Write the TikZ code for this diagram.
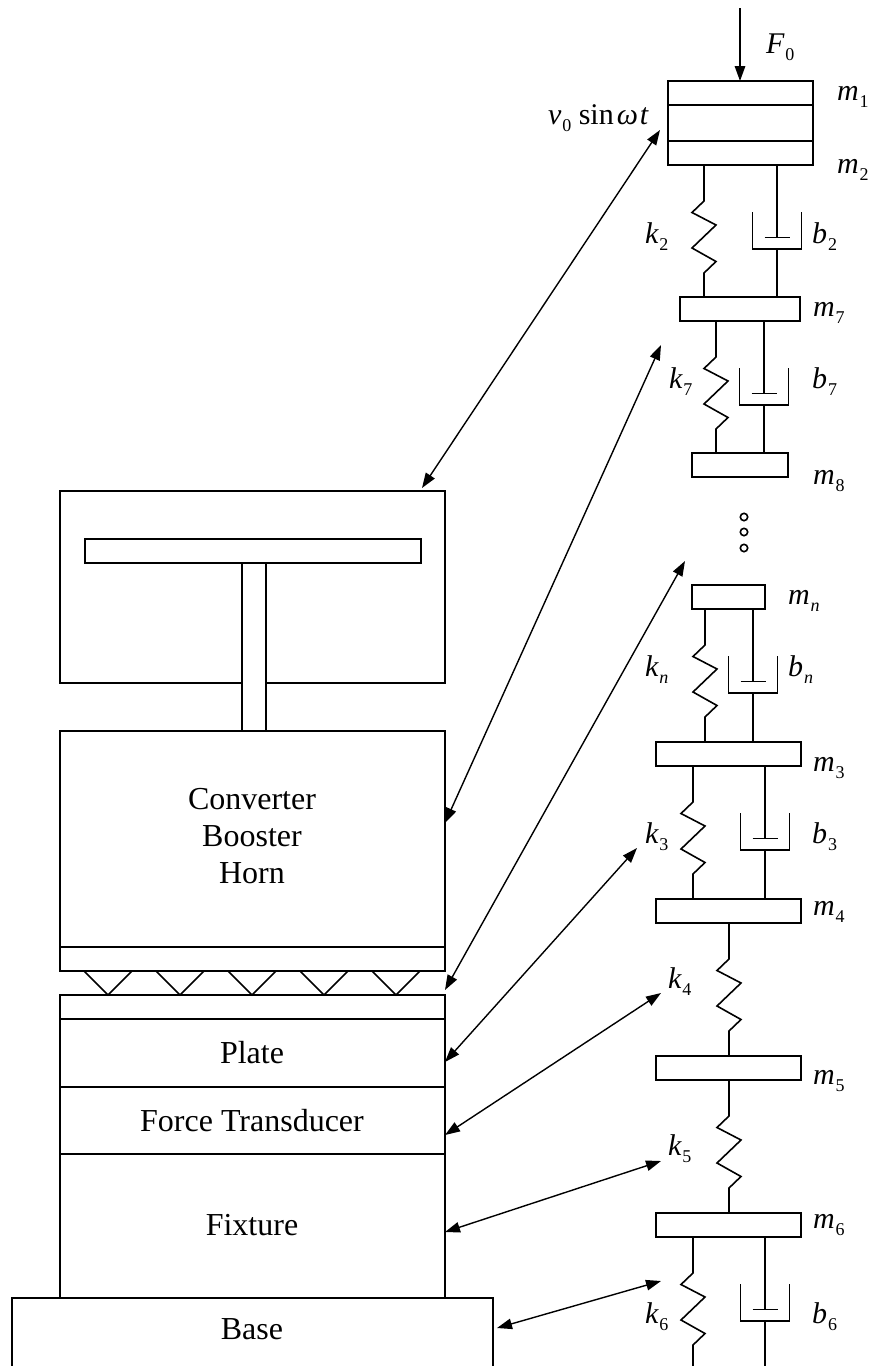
\documentclass[tikz,border=0pt]{standalone}
\usepackage{fontspec}
\setmainfont{Liberation Serif}
\usetikzlibrary{arrows.meta,calc}
\newcommand{\BigF}{\fontsize{32}{37}\selectfont}
\newcommand{\LabF}{\fontsize{30}{34}\selectfont}
\newcommand{\SubF}{\fontsize{18}{18}\selectfont}
\newcommand{\lab}[2]{{\itshape #1}\kern1pt\raisebox{-7.5pt}{\SubF #2}}
\newcommand{\labn}[2]{{\itshape #1}\kern1pt\raisebox{-7.5pt}{\SubF\itshape #2}}
% box by corners: name, x1, y1, x2, y2
\newcommand{\bx}[5]{%
  \pgfmathsetmacro{\bxw}{#4-#2}\pgfmathsetmacro{\bxh}{#5-#3}%
  \pgfmathsetmacro{\bxx}{(#2+#4)/2}\pgfmathsetmacro{\bxy}{(#3+#5)/2}%
  \node[boxn,minimum width=\bxw pt,minimum height=\bxh pt] (#1) at (\bxx,\bxy) {};}
% spring from node #1 to node #2 at x = #3
\newcommand{\spr}[3]{%
  \draw[ln] (#3,0 |- #1.south) -- ++(0,36) -- ++(-12,11.5) -- ++(24,12.5) -- ++(-24,23) -- ++(24,13.5) -- ++(-12,11.5) -- (#3,0 |- #2);}
% damper from node #1 to node #2 at x = #3
\newcommand{\dmp}[3]{%
  \draw[ln] (#3,0 |- #1.south) -- ++(0,72.5) coordinate (pl);
  \draw[ln] ([xshift=-12.5pt]pl) -- ([xshift=12.5pt]pl);
  \draw[ln] ([shift={(-24.5,-25.5)}]pl) -- ([shift={(-24.5,11.5)}]pl) -- ([shift={(24.5,11.5)}]pl) -- ([shift={(24.5,-25.5)}]pl);
  \draw[ln] ([yshift=-11.5pt]pl) -- (#3,0 |- #2);}
\tikzset{
  ln/.style={line width=1.6pt,black,line join=miter},
  boxn/.style={draw=black,line width=1.6pt,fill=white,inner sep=0pt,outer sep=0pt,rectangle},
  txt/.style={font=\BigF,inner sep=0pt,outer sep=0pt,anchor=base,text=black},
  sym/.style={font=\LabF,inner sep=0pt,outer sep=0pt,anchor=base west,text=black},
  dbl/.style={line width=1.4pt,black,{Stealth[length=15pt,width=10.5pt,inset=0pt]}-{Stealth[length=15pt,width=10.5pt,inset=0pt]}},
  sgl/.style={line width=1.6pt,black,-{Stealth[length=15pt,width=10.5pt,inset=0pt]}},
}
\begin{document}
\begin{tikzpicture}[x=1pt,y=-1pt]
\useasboundingbox (0,0) rectangle (871,1366);
% left assembly
\bx{head}{60}{491}{445}{683}
\bx{stem}{242}{563}{266}{731}
\bx{bar}{85}{539}{421}{563}
\bx{conv}{60}{731}{445}{947}
\bx{sono}{60}{947}{445}{971}
\bx{anvil}{60}{995}{445}{1019}
\bx{plate}{60}{1019}{445}{1087}
\bx{force}{60}{1087}{445}{1154}
\bx{fixture}{60}{1154}{445}{1298}
\bx{base}{12}{1298}{493}{1380}
\foreach \xa in {84,156,228,300,372}
  \draw[ln] (\xa,971) -- ++(24,24) -- ++(24,-24);
\node[font=\BigF,align=center,inner sep=0pt,text=black] (convt) at (252,836) {Converter\\Booster\\Horn};
\node[txt] (platet) at (252,1063) {Plate};
\node[txt] (forcet) at (252,1131) {Force Transducer};
\node[txt] (fixt) at (252,1235) {Fixture};
\node[txt] (baset) at (252,1339) {Base};
% masses
\bx{m1}{668}{81}{813}{105}
\bx{m12}{668}{105}{813}{141}
\bx{m2}{668}{141}{813}{165}
\bx{m7}{680}{297}{800}{321}
\bx{m8}{692}{453}{788}{477}
\bx{mn}{692}{585}{765}{609}
\bx{m3}{656}{742}{801}{766}
\bx{m4}{656}{899}{801}{923}
\bx{m5}{656}{1056}{801}{1080}
\bx{m6}{656}{1213}{801}{1237}
% force
\coordinate (f0) at (740,8);
\draw[sgl] (f0) -- (740,0 |- m1.north);
% springs and dampers
\spr{m2}{m7.north}{704}
\dmp{m2}{m7.north}{777}
\spr{m7}{m8.north}{716}
\dmp{m7}{m8.north}{764}
\spr{mn}{m3.north}{705}
\dmp{mn}{m3.north}{753}
\spr{m3}{m4.north}{693}
\dmp{m3}{m4.north}{765}
\spr{m4}{m5.north}{729}
\spr{m5}{m6.north}{729}
\coordinate (bot) at (0,1368);
\spr{m6}{bot}{693}
\dmp{m6}{bot}{765}
% dots
\foreach \yd in {517,532,548}
  \draw[line width=1.6pt] (744,\yd) circle (3.7);
% arrows
\coordinate (a1a) at (422,488); \coordinate (a1b) at (660,130);
\coordinate (a2a) at (445,823); \coordinate (a2b) at (661,345);
\coordinate (a3a) at (445,990); \coordinate (a3b) at (685,561);
\coordinate (a4a) at (445,1062); \coordinate (a4b) at (637,848);
\coordinate (a5a) at (445,1135); \coordinate (a5b) at (661,993);
\coordinate (a6a) at (445,1232); \coordinate (a6b) at (661,1161);
\coordinate (a7a) at (497,1328); \coordinate (a7b) at (661,1281);
\foreach \n in {1,...,7} \draw[dbl] (a\n a) -- (a\n b);
% labels
\node[sym] (lF) at (766,53) {\lab{F}{0}};
\node[sym] (lm1) at (837,100) {\lab{m}{1}};
\node[sym] (lm2) at (837,173) {\lab{m}{2}};
\node[sym] (lv) at (548,124) {\lab{v}{0} sin\kern3pt{\itshape ω\kern2pt t}};
\node[sym] (lk2) at (645,243) {\lab{k}{2}};
\node[sym] (lb2) at (812,243) {\lab{b}{2}};
\node[sym] (lm7) at (813,316) {\lab{m}{7}};
\node[sym] (lk7) at (669,388) {\lab{k}{7}};
\node[sym] (lb7) at (812,388) {\lab{b}{7}};
\node[sym] (lm8) at (813,484) {\lab{m}{8}};
\node[sym] (lmn) at (788,604) {\labn{m}{n}};
\node[sym] (lkn) at (645,676) {\labn{k}{n}};
\node[sym] (lbn) at (788,676) {\labn{b}{n}};
\node[sym] (lm3) at (813,771) {\lab{m}{3}};
\node[sym] (lk3) at (645,843) {\lab{k}{3}};
\node[sym] (lb3) at (812,843) {\lab{b}{3}};
\node[sym] (lm4) at (813,915) {\lab{m}{4}};
\node[sym] (lk4) at (668,988) {\lab{k}{4}};
\node[sym] (lm5) at (813,1084) {\lab{m}{5}};
\node[sym] (lk5) at (668,1155) {\lab{k}{5}};
\node[sym] (lm6) at (813,1228) {\lab{m}{6}};
\node[sym] (lk6) at (645,1323) {\lab{k}{6}};
\node[sym] (lb6) at (812,1323) {\lab{b}{6}};
\end{tikzpicture}
\end{document}
